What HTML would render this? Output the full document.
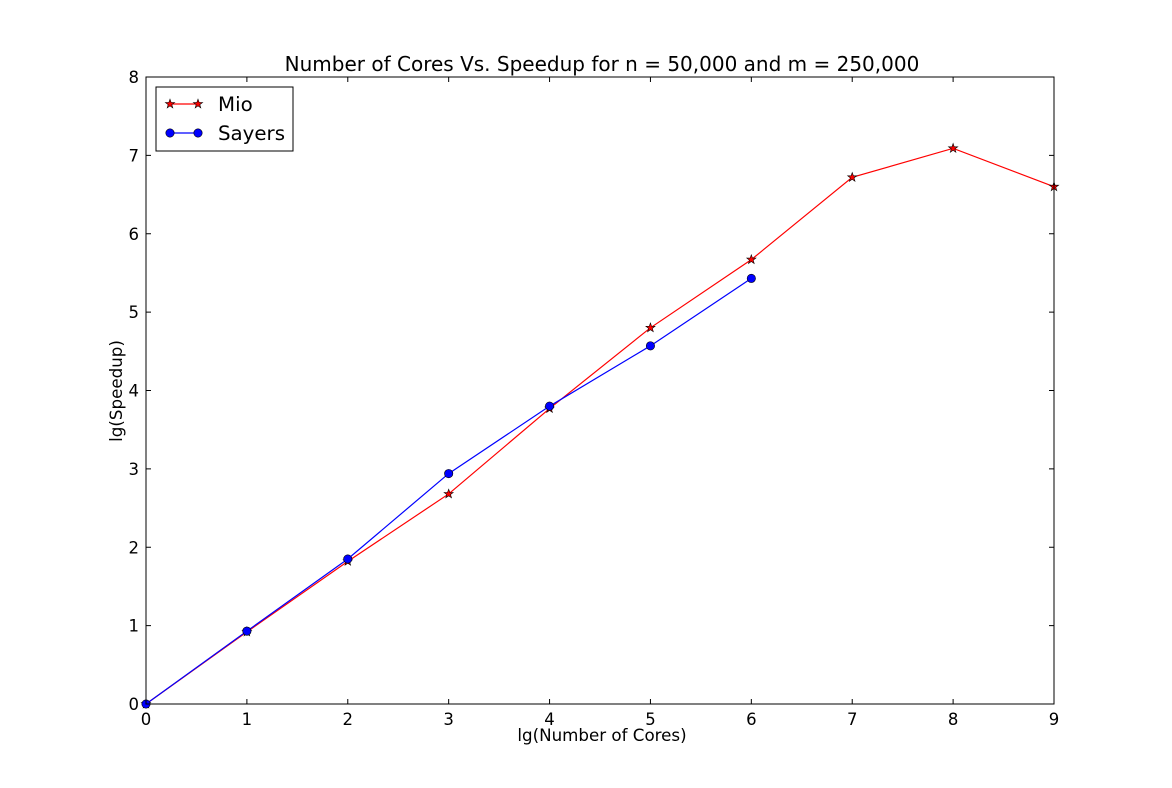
<!DOCTYPE html>
<html><head><meta charset="utf-8"><style>
body{margin:0;background:#fff;}
svg text{font-family:"DejaVu Sans","Liberation Sans",sans-serif;fill:#000;}
</style></head><body>
<svg width="1172" height="783" viewBox="0 0 1172 783">
<rect width="1172" height="783" fill="#fff"/>
<g id="plot"></g>
</svg>
<script>
const xTicks=[0,1,2,3,4,5,6,7,8,9];
const yTicks=[0,1,2,3,4,5,6,7,8];
const mioX=[0,1,2,3,4,5,6,7,8,9];
const mioY=[0,0.92,1.82,2.68,3.77,4.80,5.67,6.72,7.09,6.60];
const sayersX=[0,1,2,3,4,5,6];
const sayersY=[0,0.93,1.85,2.94,3.80,4.57,5.43];

const NS='http://www.w3.org/2000/svg';
const L=146,R=1054,T=77,B=704;
const sx=v=>L+(R-L)*v/9;
const sy=v=>B-(B-T)*v/8;
const g=document.getElementById('plot');
function mk(tag,attrs,parent){const e=document.createElementNS(NS,tag);for(const k in attrs)e.setAttribute(k,attrs[k]);(parent||g).appendChild(e);return e;}

xTicks.forEach(v=>{
  const x=sx(v);
  mk('line',{x1:x,x2:x,y1:B,y2:B-5,stroke:'#000'});
  mk('line',{x1:x,x2:x,y1:T,y2:T+5,stroke:'#000'});
  const t=mk('text',{x:x,y:B+21,'text-anchor':'middle','font-size':16.5});
  t.textContent=v;
  
  
});
yTicks.forEach(v=>{
  const y=sy(v);
  mk('line',{x1:L,x2:L+5,y1:y,y2:y,stroke:'#000'});
  mk('line',{x1:R,x2:R-5,y1:y,y2:y,stroke:'#000'});
  const t=mk('text',{x:L-7,y:y+6,'text-anchor':'end','font-size':16.5});
  t.textContent=v;
  
  
});

function star(cx,cy,r){let p=[];for(let i=0;i<10;i++){const a=-Math.PI/2+i*Math.PI/5;const rr=i%2?r*0.4:r;p.push((cx+rr*Math.cos(a)).toFixed(1)+','+(cy+rr*Math.sin(a)).toFixed(1));}return p.join(' ');}

const mioPts=mioX.map((x,i)=>sx(x)+','+sy(mioY[i])).join(' ');
const ml=mk('polyline',{points:mioPts,fill:'none',stroke:'#ff0000','stroke-width':1.2});


mioX.forEach((x,i)=>{
  const s=mk('polygon',{points:star(sx(x),sy(mioY[i]),4.8),fill:'#ff0000',stroke:'#000','stroke-width':0.6});
  
  
});
const sayPts=sayersX.map((x,i)=>sx(x)+','+sy(sayersY[i])).join(' ');
const sl=mk('polyline',{points:sayPts,fill:'none',stroke:'#0000ff','stroke-width':1.2});


sayersX.forEach((x,i)=>{
  const c=mk('circle',{cx:sx(x),cy:sy(sayersY[i]),r:4.2,fill:'#0000ff',stroke:'#000','stroke-width':0.6});
  
  
});

const f=mk('rect',{x:L,y:T,width:R-L,height:B-T,fill:'none',stroke:'#000','stroke-width':1});



const title=mk('text',{x:(L+R)/2+2,y:71,'text-anchor':'middle','font-size':20});
title.textContent='Number of Cores Vs. Speedup for n = 50,000 and m = 250,000';


const xt=mk('text',{x:(L+R)/2+2,y:741,'text-anchor':'middle','font-size':16.7});
xt.textContent='lg(Number of Cores)';


const yt=mk('text',{x:0,y:0,'text-anchor':'middle','font-size':16.7,transform:'translate(122,391) rotate(-90)'});
yt.textContent='lg(Speedup)';



const lg=mk('g',{});


mk('rect',{x:156,y:87,width:137,height:64,fill:'#fff',stroke:'#000'},lg);
mk('line',{x1:170,x2:198,y1:104,y2:104,stroke:'#ff0000','stroke-width':1.2},lg);
mk('polygon',{points:star(170,104,4.8),fill:'#ff0000',stroke:'#000','stroke-width':0.6},lg);
mk('polygon',{points:star(198,104,4.8),fill:'#ff0000',stroke:'#000','stroke-width':0.6},lg);
const t1=mk('text',{x:218,y:111,'font-size':19.8},lg);t1.textContent='Mio';


mk('line',{x1:170,x2:198,y1:133,y2:133,stroke:'#0000ff','stroke-width':1.2},lg);
mk('circle',{cx:170,cy:133,r:4.2,fill:'#0000ff',stroke:'#000','stroke-width':0.6},lg);
mk('circle',{cx:198,cy:133,r:4.2,fill:'#0000ff',stroke:'#000','stroke-width':0.6},lg);
const t2=mk('text',{x:218,y:140,'font-size':19.8},lg);t2.textContent='Sayers';


</script>
</body></html>
